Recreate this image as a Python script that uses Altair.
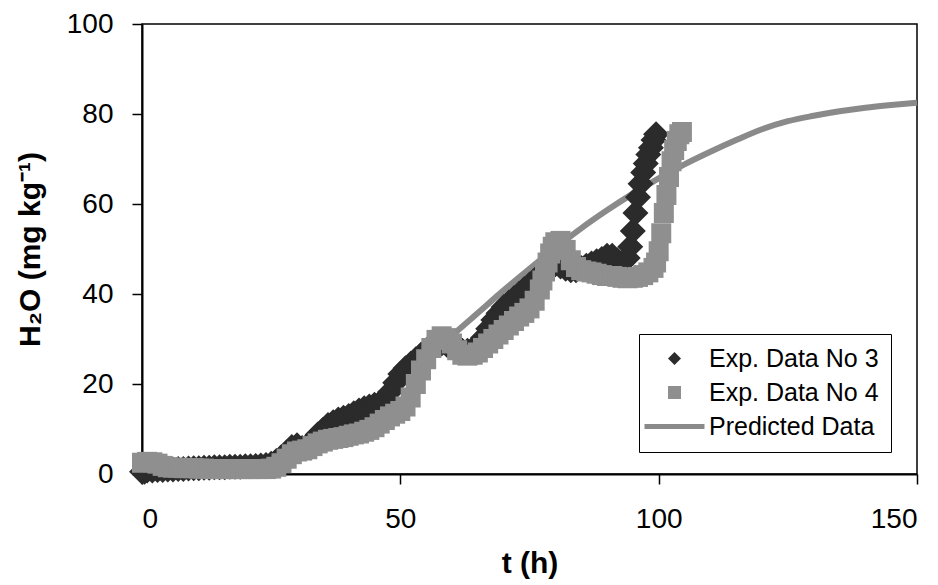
import altair as alt
import pandas as pd

# Series names, in legend order
SERIES = ["Exp. Data No 3", "Exp. Data No 4", "Predicted Data"]
SERIES_COLORS = ["#2b2b2b", "#8f8f8f", "#8a8a8a"]

# Experiment No 3: time (h) and water content (mg/kg)
t_exp3 = [0, 0.5, 1, 2, 3, 4, 5, 6, 7, 8, 9, 10, 11, 12, 13, 14, 15, 16, 17, 18,
          19, 20, 21, 22, 23, 24, 25, 26, 27, 28, 29, 30, 31, 32, 33, 34, 35, 36,
          37, 38, 39, 40, 41, 42, 43, 44, 45, 46, 47, 48, 49, 50, 51, 52, 53, 54,
          55, 56, 57, 58, 59, 60, 61, 62, 63, 64, 65, 66, 67, 68, 69, 70, 71, 72,
          73, 74, 75, 76, 77, 78, 79, 80, 81, 82, 83, 84, 85, 86, 87, 88, 89, 90,
          91, 92, 93, 94, 94.5, 95, 95.5, 96, 96.5, 97, 97.5, 98, 98.5, 99, 99.5]
h2o_exp3 = [0.5, 0.5, 0.8, 0.8, 0.9, 0.9, 1.0, 1.0, 1.1, 1.1, 1.2, 1.3, 1.3, 1.4,
            1.4, 1.5, 1.5, 1.5, 1.6, 1.6, 1.6, 1.7, 1.7, 1.8, 1.9, 2.0, 2.3, 2.9,
            3.8, 4.8, 6.0, 6.4, 5.8, 6.3, 7.4, 8.8, 9.8, 10.9, 11.5, 12.1, 12.5,
            12.9, 13.5, 14.1, 14.6, 15.0, 15.4, 15.8, 16.6, 18.2, 20.3, 22.2, 23.5,
            24.5, 25.5, 26.5, 27.5, 28.5, 29.0, 29.0, 28.7, 28.3, 27.8, 27.4, 27.4,
            27.8, 28.8, 30.3, 32.3, 34.2, 35.7, 37.1, 38.1, 39.1, 40.1, 41.1, 42.1,
            43.1, 44.1, 45.1, 46.1, 46.6, 46.1, 45.6, 45.3, 45.3, 45.8, 46.3, 46.8,
            47.3, 47.8, 48.5, 48.5, 47.5, 47.0, 48.0, 50.5, 54.0, 58.0, 61.5, 64.5,
            67.0, 69.0, 71.0, 72.5, 74.2, 75.5]

# Experiment No 4: time (h) and water content (mg/kg)
t_exp4 = [0, 1, 2, 3, 4, 5, 6, 7, 8, 9, 10, 11, 12, 13, 14, 15, 16, 17, 18, 19,
          20, 21, 22, 23, 24, 25, 26, 27, 28, 29, 30, 31, 32, 33, 34, 35, 36, 37,
          38, 39, 40, 41, 42, 43, 44, 45, 46, 47, 48, 49, 50, 51, 52, 53, 54, 55,
          56, 57, 58, 59, 60, 61, 62, 63, 64, 65, 66, 67, 68, 69, 70, 71, 72, 73,
          74, 75, 76, 77, 77.5, 78, 78.5, 79, 79.5, 80, 81, 82, 83, 84, 85, 86, 87,
          88, 89, 90, 91, 92, 93, 94, 95, 96, 97, 98, 99, 99.5, 100, 100.5, 101,
          101.5, 102, 102.5, 103, 103.5, 104, 104.5]
h2o_exp4 = [2.5, 2.7, 2.6, 2.3, 1.8, 1.5, 1.4, 1.4, 1.3, 1.3, 1.3, 1.2, 1.2, 1.1,
            1.1, 1.1, 1.1, 1.1, 1.1, 1.1, 1.1, 1.1, 1.1, 1.1, 1.1, 1.2, 1.6, 2.4,
            3.4, 4.4, 5.0, 5.2, 5.5, 6.2, 6.8, 7.2, 7.6, 7.8, 8.0, 8.2, 8.5, 8.8,
            9.0, 9.4, 9.8, 10.4, 11.2, 12.0, 12.8, 13.4, 14.0, 15.0, 17.0, 20.0,
            23.0, 25.5, 28.0, 29.8, 30.6, 30.2, 29.0, 27.5, 26.5, 26.3, 26.5, 27.0,
            28.0, 29.0, 30.0, 31.0, 32.0, 33.0, 34.0, 35.0, 35.8, 36.8, 38.5, 41.0,
            43.0, 45.0, 47.0, 49.0, 50.5, 51.5, 51.8, 49.8, 47.5, 46.0, 45.3, 45.0,
            44.8, 44.5, 44.2, 44.0, 44.0, 43.8, 43.6, 43.5, 43.6, 43.8, 44.2, 44.8,
            45.8, 47.0, 49.5, 53.5, 58.0, 62.0, 66.0, 69.5, 72.0, 74.0, 75.5, 76.0]

# Model prediction
t_pred = [0, 5, 10, 15, 20, 25, 30, 35, 40, 45, 50, 55, 60, 65, 70, 75, 80, 85,
          90, 95, 100, 105, 110, 115, 120, 125, 130, 135, 140, 145, 150]
h2o_pred = [0.3, 0.6, 1.0, 1.6, 2.5, 3.8, 5.8, 8.5, 12.0, 16.2, 20.8, 25.8, 30.8,
            35.8, 40.8, 45.6, 50.2, 54.6, 58.6, 62.3, 65.7, 68.8, 71.6, 74.2, 76.6,
            78.4, 79.6, 80.6, 81.4, 82.0, 82.5]

x_ticks = [0, 50, 100, 150]
y_ticks = [0, 20, 40, 60, 80, 100]

exp3 = pd.DataFrame({"t": t_exp3, "h2o": h2o_exp3, "series": SERIES[0]})
exp4 = pd.DataFrame({"t": t_exp4, "h2o": h2o_exp4, "series": SERIES[1]})
pred = pd.DataFrame({"t": t_pred, "h2o": h2o_pred})

FONT = "Liberation Sans"

x_enc = alt.X("t:Q",
              scale=alt.Scale(domain=[0, 150], nice=False, zero=False),
              axis=alt.Axis(values=x_ticks, title="t (h)", labelPadding=21,
                            titlePadding=15))
y_enc = alt.Y("h2o:Q",
              scale=alt.Scale(domain=[0, 100], nice=False),
              axis=alt.Axis(values=y_ticks, title="H₂O (mg kg⁻¹)",
                            labelPadding=19, titlePadding=21))

legend = alt.Legend(
    title=None, orient="none", legendX=497, legendY=310,
    direction="vertical", strokeColor="black", padding=12,
    labelFont=FONT, labelFontSize=25, labelColor="black", labelOffset=22,
    labelLimit=400,
    symbolSize=170, symbolOffset=11, symbolOpacity=1, symbolStrokeWidth=0,
    rowPadding=8, fillColor="white",
)
color_scale = alt.Scale(domain=SERIES, range=SERIES_COLORS)
shape_scale = alt.Scale(domain=SERIES,
                        range=["diamond", "square", "M-4.6,-0.4H4.6V0.4H-4.6Z"])

line = alt.Chart(pred).mark_line(
    color=SERIES_COLORS[2], strokeWidth=6, interpolate="monotone", clip=False
).encode(x=x_enc, y=y_enc)


def exp_layer(df, size):
    return alt.Chart(df).mark_point(
        filled=True, opacity=1, size=size, strokeWidth=0, clip=False
    ).encode(
        x=x_enc, y=y_enc,
        color=alt.Color("series:N", scale=color_scale, legend=legend),
        shape=alt.Shape("series:N", scale=shape_scale, legend=legend),
    )


chart = alt.layer(line, exp_layer(exp3, 676), exp_layer(exp4, 400)).properties(
    width=775, height=450,
    autosize=alt.AutoSizeParams(type="none"),
    padding={"left": 142, "top": 24, "right": 21, "bottom": 111},
    background="white",
).configure_view(
    stroke="black", strokeWidth=1.5
).configure_axis(
    grid=False, domainColor="black", domainWidth=2, tickColor="black",
    tickWidth=1.5, tickSize=10, labelFont=FONT, labelFontSize=28,
    labelColor="black", titleFont=FONT, titleFontSize=30,
    titleFontWeight="bold", titleColor="black",
)

chart.save("out.html", embed_options={"renderer": "svg", "actions": False})
